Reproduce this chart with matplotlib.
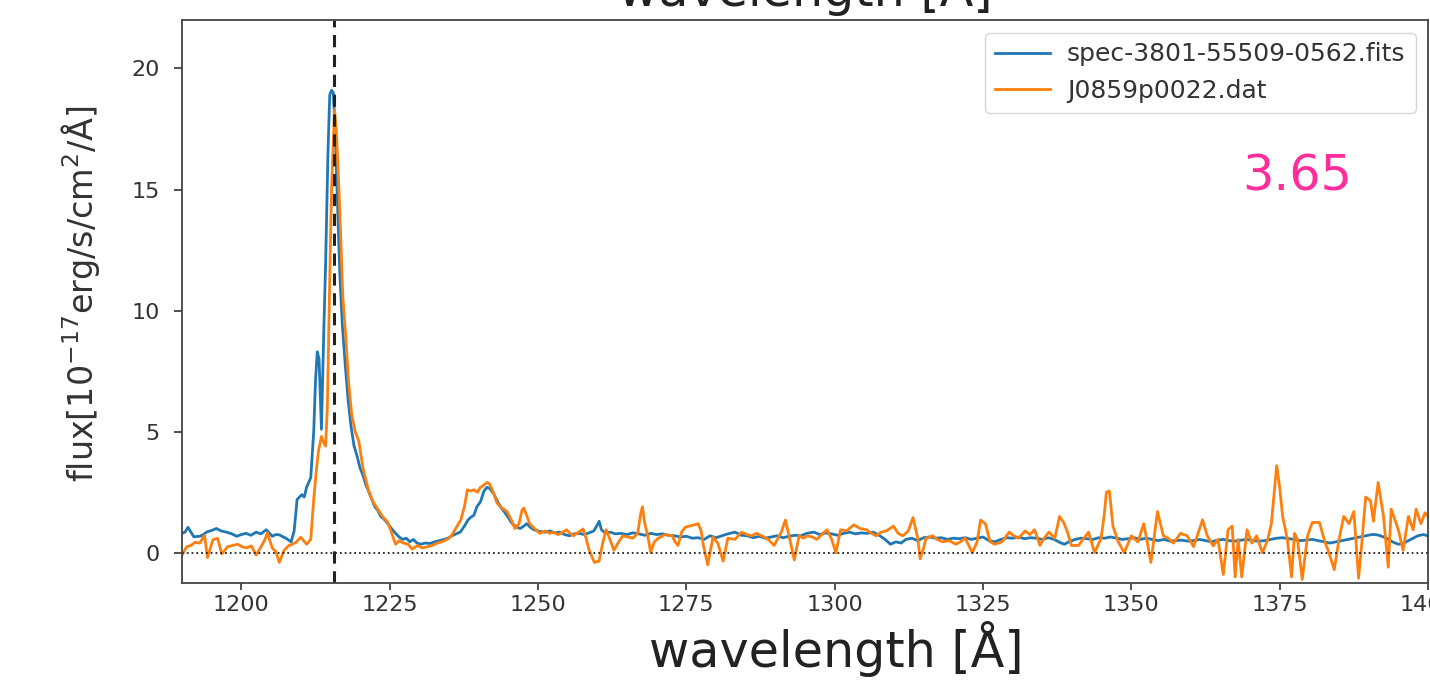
import matplotlib
matplotlib.use("Agg")
import matplotlib.pyplot as plt

# ---- data ----
blue_wave = [1190.0, 1190.5, 1191.0, 1191.5, 1192.0, 1193.0, 1193.6, 1194.2, 1195.0, 1195.8,
             1196.6, 1197.5, 1198.4, 1199.2, 1200.0, 1200.8, 1201.6, 1202.5, 1203.3, 1204.2,
             1205.2, 1205.8, 1206.4, 1207.0, 1207.5, 1208.4, 1208.9, 1209.4, 1210.2, 1210.6,
             1211.0, 1211.7, 1212.2, 1212.5, 1212.8, 1213.1, 1213.5, 1213.9, 1214.2, 1214.6,
             1214.9, 1215.2, 1215.5, 1215.8, 1216.2, 1216.6, 1217.0, 1217.5, 1218.0, 1218.5,
             1219.0, 1219.5, 1220.0, 1220.5, 1221.0, 1221.5, 1222.0, 1222.5, 1223.0, 1223.5,
             1224.0, 1224.7, 1225.3, 1226.0, 1226.6, 1227.2, 1227.8, 1228.4, 1229.0, 1229.6,
             1230.2, 1231.0, 1231.8, 1232.6, 1233.4, 1234.2, 1234.8, 1235.5, 1236.2, 1236.9,
             1237.6, 1238.2, 1238.6, 1239.2, 1239.7, 1240.3, 1240.9, 1241.4, 1241.9, 1242.6,
             1243.2, 1243.8, 1244.3, 1245.0, 1245.5, 1245.9, 1246.5, 1247.0, 1247.6, 1248.1,
             1248.7, 1249.3, 1250.3, 1251.2, 1252.0, 1252.8, 1253.6, 1254.5, 1255.3, 1256.1,
             1257.0, 1257.8, 1258.6, 1259.4, 1260.0, 1260.3, 1260.7, 1261.4, 1262.2, 1263.0,
             1264.0, 1265.0, 1266.0, 1267.0, 1268.0, 1269.0, 1270.0, 1271.0, 1272.0, 1273.0,
             1274.0, 1275.0, 1276.0, 1277.0, 1278.0, 1279.0, 1280.0, 1281.0, 1282.0, 1283.2,
             1284.3, 1285.3, 1286.3, 1287.3, 1288.3, 1289.3, 1290.3, 1291.3, 1292.3, 1293.3,
             1294.3, 1295.3, 1296.5, 1297.5, 1298.5, 1299.5, 1300.5, 1301.5, 1302.5, 1303.5,
             1304.5, 1305.5, 1306.5, 1307.5, 1308.5, 1309.4, 1310.3, 1311.2, 1312.0, 1313.0,
             1314.0, 1315.0, 1316.0, 1317.0, 1318.0, 1319.0, 1320.0, 1321.0, 1322.0, 1323.0,
             1324.0, 1325.0, 1326.0, 1327.0, 1328.0, 1329.0, 1330.0, 1331.0, 1332.0, 1333.0,
             1334.0, 1335.0, 1336.0, 1337.0, 1338.0, 1338.7, 1339.5, 1340.5, 1341.5, 1342.5,
             1343.5, 1344.5, 1345.5, 1346.5, 1347.5, 1348.5, 1349.5, 1350.5, 1351.5, 1352.5,
             1353.5, 1354.5, 1355.5, 1356.5, 1357.5, 1358.5, 1359.5, 1360.5, 1361.5, 1362.5,
             1363.5, 1364.5, 1365.5, 1366.5, 1367.5, 1368.5, 1369.5, 1370.5, 1371.5, 1372.5,
             1373.5, 1374.5, 1375.5, 1376.5, 1377.5, 1378.5, 1379.5, 1380.5, 1381.5, 1382.5,
             1383.5, 1384.5, 1385.5, 1386.5, 1387.5, 1388.5, 1389.5, 1390.5, 1391.2, 1392.0,
             1393.0, 1394.0, 1395.0, 1395.8, 1396.7, 1397.5, 1398.3, 1399.2, 1400.0]
blue_flux = [0.80, 0.85, 1.05, 0.85, 0.66, 0.68, 0.75, 0.86, 0.92, 1.00,
             0.90, 0.85, 0.78, 0.68, 0.75, 0.80, 0.72, 0.85, 0.78, 0.95,
             0.68, 0.75, 0.74, 0.66, 0.60, 0.45, 0.90, 2.20, 2.40, 2.30,
             2.70, 3.10, 5.00, 7.10, 8.30, 8.00, 5.10, 9.20, 11.9, 16.5,
             18.9, 19.1, 19.0, 17.5, 14.5, 11.5, 9.50, 7.80, 6.30, 5.20,
             4.40, 4.00, 3.50, 3.20, 2.80, 2.50, 2.20, 1.90, 1.75, 1.50,
             1.40, 1.20, 1.00, 0.80, 0.65, 0.55, 0.60, 0.45, 0.55, 0.40,
             0.35, 0.40, 0.38, 0.45, 0.50, 0.55, 0.60, 0.70, 0.78, 0.85,
             1.10, 1.35, 1.45, 1.55, 1.90, 2.10, 2.55, 2.70, 2.65, 2.40,
             2.10, 1.85, 1.70, 1.45, 1.25, 1.15, 1.05, 1.00, 1.10, 1.20,
             1.05, 0.95, 0.88, 0.85, 0.90, 0.82, 0.85, 0.75, 0.70, 0.78,
             0.80, 0.75, 0.82, 0.90, 1.15, 1.30, 0.95, 0.80, 0.85, 0.78,
             0.80, 0.75, 0.82, 0.78, 0.72, 0.80, 0.75, 0.78, 0.72, 0.70,
             0.65, 0.68, 0.60, 0.62, 0.55, 0.70, 0.62, 0.70, 0.78, 0.85,
             0.72, 0.70, 0.62, 0.68, 0.60, 0.65, 0.70, 0.62, 0.68, 0.72,
             0.70, 0.80, 0.85, 0.75, 0.82, 0.78, 0.72, 0.80, 0.85, 0.78,
             0.82, 0.80, 0.85, 0.72, 0.55, 0.35, 0.45, 0.40, 0.55, 0.60,
             0.50, 0.62, 0.65, 0.60, 0.62, 0.55, 0.60, 0.58, 0.62, 0.55,
             0.60, 0.65, 0.50, 0.45, 0.55, 0.62, 0.60, 0.65, 0.58, 0.62,
             0.60, 0.55, 0.62, 0.55, 0.42, 0.35, 0.45, 0.55, 0.60, 0.58,
             0.55, 0.62, 0.60, 0.65, 0.60, 0.55, 0.58, 0.62, 0.55, 0.60,
             0.55, 0.50, 0.55, 0.48, 0.50, 0.52, 0.48, 0.50, 0.55, 0.50,
             0.45, 0.52, 0.55, 0.50, 0.48, 0.52, 0.55, 0.50, 0.48, 0.50,
             0.55, 0.60, 0.62, 0.58, 0.55, 0.50, 0.52, 0.55, 0.50, 0.45,
             0.40, 0.45, 0.50, 0.55, 0.60, 0.65, 0.70, 0.75, 0.75, 0.70,
             0.60, 0.45, 0.35, 0.38, 0.50, 0.60, 0.70, 0.75, 0.70]

orange_wave = [1190.0, 1190.8, 1191.5, 1192.2, 1193.0, 1193.8, 1194.3, 1195.2, 1196.0, 1196.7,
               1197.7, 1198.5, 1199.4, 1200.1, 1200.8, 1201.7, 1202.5, 1203.2, 1203.9, 1204.4,
               1205.2, 1205.8, 1206.4, 1207.2, 1208.0, 1208.6, 1209.2, 1210.0, 1210.5, 1211.0,
               1211.7, 1212.2, 1212.6, 1213.0, 1213.5, 1213.8, 1214.2, 1214.5, 1214.8, 1215.2,
               1215.7, 1216.0, 1216.5, 1217.1, 1217.6, 1218.1, 1218.6, 1219.2, 1219.8, 1220.5,
               1221.4, 1222.2, 1223.0, 1223.8, 1224.7, 1225.5, 1226.0, 1226.6, 1227.3, 1228.1,
               1228.8, 1229.7, 1230.5, 1231.4, 1232.2, 1233.0, 1233.8, 1234.7, 1235.4, 1236.0,
               1237.0, 1237.6, 1238.1, 1238.6, 1239.2, 1239.8, 1240.3, 1240.9, 1241.4, 1241.8,
               1242.3, 1243.1, 1243.9, 1244.8, 1245.5, 1246.1, 1246.8, 1247.3, 1247.6, 1248.0,
               1248.6, 1249.4, 1250.3, 1251.2, 1252.0, 1252.6, 1253.4, 1254.2, 1254.8, 1255.4,
               1256.0, 1256.8, 1257.6, 1258.1, 1258.6, 1259.5, 1260.3, 1260.9, 1261.5, 1262.2,
               1262.8, 1263.6, 1264.3, 1265.2, 1266.0, 1266.8, 1267.3, 1267.6, 1268.0, 1268.5,
               1269.0, 1269.6, 1270.3, 1271.4, 1272.6, 1273.1, 1273.6, 1274.2, 1274.8, 1275.5,
               1276.3, 1277.0, 1277.5, 1277.8, 1278.6, 1279.5, 1280.3, 1281.2, 1282.0, 1283.2,
               1284.3, 1285.2, 1286.0, 1286.8, 1287.7, 1288.8, 1289.8, 1291.0, 1291.7, 1292.3,
               1293.2, 1294.0, 1294.7, 1295.4, 1296.2, 1297.0, 1297.8, 1298.7, 1299.5, 1300.2,
               1301.0, 1302.0, 1303.2, 1304.3, 1305.4, 1306.2, 1307.0, 1307.8, 1308.7, 1309.9,
               1310.7, 1311.5, 1312.4, 1313.2, 1314.0, 1314.4, 1315.0, 1315.4, 1316.5, 1317.3,
               1318.2, 1319.3, 1320.4, 1321.2, 1322.0, 1323.2, 1324.0, 1324.6, 1325.4, 1326.2,
               1327.0, 1328.2, 1329.4, 1330.2, 1331.0, 1332.1, 1332.9, 1333.7, 1334.6, 1335.3,
               1336.1, 1337.1, 1337.9, 1338.7, 1339.3, 1339.9, 1341.1, 1342.0, 1342.8, 1343.8,
               1344.9, 1345.4, 1345.8, 1346.3, 1346.9, 1347.8, 1348.8, 1350.0, 1351.1, 1352.1,
               1353.3, 1354.4, 1355.4, 1356.2, 1357.1, 1358.3, 1359.4, 1360.5, 1362.0, 1362.8,
               1363.8, 1364.6, 1365.5, 1366.3, 1367.0, 1367.5, 1368.0, 1368.6, 1369.5, 1370.3,
               1371.1, 1372.1, 1373.0, 1373.6, 1374.5, 1375.0, 1375.5, 1376.3, 1377.0, 1377.5,
               1378.0, 1378.8, 1379.7, 1380.5, 1381.7, 1382.5, 1383.3, 1384.2, 1385.0, 1385.8,
               1386.7, 1387.5, 1388.3, 1388.8, 1389.5, 1390.3, 1390.8, 1391.6, 1392.5, 1393.3,
               1393.8, 1395.0, 1395.8, 1396.7, 1397.5, 1398.0, 1398.8, 1399.5, 1400.0]
orange_flux = [-0.10, 0.25, 0.30, 0.43, 0.40, 0.72, -0.20, 0.53, 0.60, -0.05,
               0.25, 0.30, 0.35, 0.25, 0.20, 0.28, -0.10, 0.20, 0.50, 0.82,
               0.20, 0.05, -0.40, 0.10, 0.30, 0.35, 0.43, 0.64, 0.50, 0.35,
               0.55, 2.20, 3.30, 4.20, 4.80, 4.60, 4.40, 6.00, 10.0, 15.0,
               18.3, 17.5, 14.7, 10.6, 8.90, 7.00, 5.70, 5.00, 4.60, 3.50,
               2.60, 2.10, 1.80, 1.50, 1.25, 0.70, 0.35, 0.50, 0.40, 0.35,
               0.15, 0.30, 0.20, 0.25, 0.30, 0.40, 0.45, 0.55, 0.70, 0.95,
               1.36, 1.90, 2.60, 2.55, 2.60, 2.50, 2.70, 2.80, 2.90, 2.85,
               2.60, 2.05, 1.85, 1.70, 1.35, 1.00, 1.20, 1.75, 1.85, 1.60,
               1.20, 1.00, 0.80, 0.90, 0.80, 0.85, 0.75, 0.85, 0.95, 0.80,
               0.70, 0.85, 0.98, 0.60, 0.12, -0.40, -0.35, 0.40, 0.95, 0.50,
               0.10, 0.45, 0.70, 0.65, 0.60, 0.80, 1.60, 1.90, 1.20, 0.70,
               0.00, 0.45, 0.60, 0.75, 0.70, 0.45, 0.30, 0.85, 1.05, 1.10,
               1.15, 1.20, 0.90, 0.40, -0.50, 0.65, 0.40, -0.35, 0.60, 0.55,
               0.85, 0.75, 0.70, 0.80, 0.70, 0.55, 0.30, 0.85, 1.35, 0.70,
               -0.30, 0.70, 0.60, 0.70, 0.65, 0.55, 0.75, 0.95, 0.55, 0.00,
               0.95, 0.90, 1.15, 1.00, 0.95, 0.80, 0.70, 0.85, 0.90, 1.10,
               0.80, 0.70, 0.90, 1.45, 0.60, -0.25, 0.20, 0.60, 0.70, 0.55,
               0.45, 0.50, 0.35, 0.45, 0.60, 0.00, 0.45, 1.35, 1.20, 0.45,
               0.35, 0.45, 0.85, 0.70, 0.60, 0.90, 0.75, 0.95, 0.30, 0.60,
               0.85, 0.60, 1.50, 1.20, 0.80, 0.30, 0.30, 0.60, 0.85, 0.00,
               0.60, 1.50, 2.50, 2.55, 1.10, 0.45, 0.00, 0.70, 0.45, 1.20,
               -0.40, 1.70, 0.70, 0.60, 0.40, 0.80, 0.70, 0.25, 1.36, 0.70,
               0.28, 0.55, -0.90, 0.95, 1.10, -1.00, 0.55, -1.00, 0.95, 0.40,
               0.70, 0.00, 0.55, 1.20, 3.60, 2.70, 1.50, 0.55, -1.00, 0.80,
               0.55, -1.10, 0.70, 1.25, 1.25, 0.55, 0.00, -0.70, 0.55, 1.50,
               1.20, 1.70, -1.05, 0.28, 2.30, 2.15, 1.30, 2.90, 1.50, -0.60,
               1.80, 0.95, 0.10, 1.50, 0.95, 1.80, 1.20, 1.65, 1.50]

blue_label = "spec-3801-55509-0562.fits"
orange_label = "J0859p0022.dat"
lya_wave = 1215.67
redshift_text = "3.65"
x_ticks = [1200, 1225, 1250, 1275, 1300, 1325, 1350, 1375, 1400]
y_ticks = [0, 5, 10, 15, 20]

# ---- figure ----
fig = plt.figure(figsize=(14.30, 6.81), dpi=100)
ax = fig.add_axes([182 / 1430, (681 - 583) / 681, (1428 - 182) / 1430, (583 - 20) / 681])

ax.plot(blue_wave, blue_flux, color="#1f77b4", lw=2.0, label=blue_label)
ax.plot(orange_wave, orange_flux, color="#ff7f0e", lw=2.0, label=orange_label)
ax.axvline(lya_wave, color="#222222", ls="--", lw=2.2, dashes=(4, 2.5))
ax.axhline(0, color="#222222", ls=":", lw=1.3)

ax.set_xlim(1190, 1400)
ax.set_ylim(-1.25, 22)
ax.set_xticks(x_ticks)
ax.set_yticks(y_ticks)
ax.tick_params(labelsize=16, width=1.2, colors="#333333")
ax.tick_params(axis="x", length=5)
ax.tick_params(axis="y", length=6, pad=10)
for s in ax.spines.values():
    s.set_color("#444444")
    s.set_linewidth(1.3)

ax.set_xlabel("wavelength [Å]", fontsize=35.5, color="#222222")
ax.xaxis.set_label_coords(0.525, -0.068)
ax.set_title("wavelength [Å]", fontsize=35.5, pad=10, color="#222222")
ax.set_ylabel(r"flux[10$^{-17}$erg/s/cm$^2$/Å]", fontsize=24, color="#333333")
ax.yaxis.set_label_coords(-0.064, 0.513)

leg = ax.legend(loc="upper right", fontsize=18, handlelength=2.2, framealpha=0.8,
                borderpad=0.4, handletextpad=0.7)
for t in leg.get_texts():
    t.set_color("#333333")

ax.text(0.851, 0.68, redshift_text, transform=ax.transAxes, fontsize=35.5,
        color="#ff2d9b", ha="left", va="bottom")

fig.savefig("out.png", dpi=100)
